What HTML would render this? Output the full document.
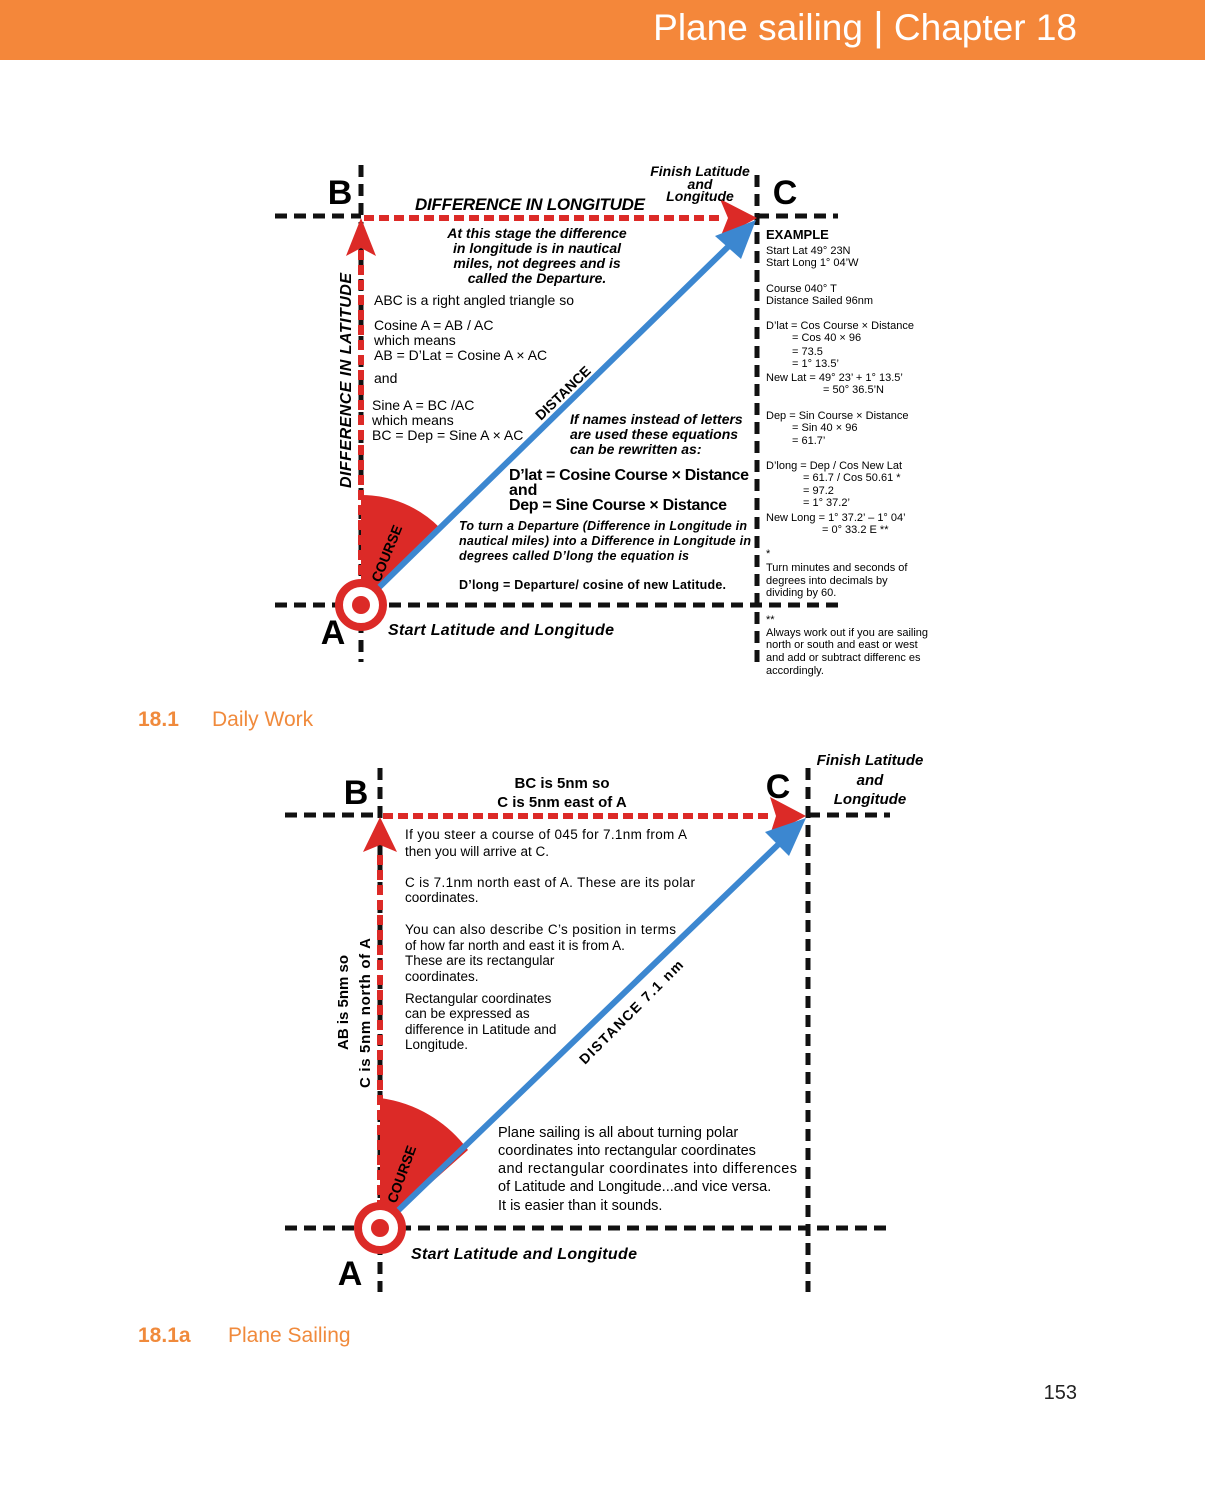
<!DOCTYPE html>
<html><head><meta charset="utf-8"><style>
body{margin:0;background:#fff;}
svg{display:block;font-family:"Liberation Sans",sans-serif;}
.bi{font-weight:bold;font-style:italic;}
</style></head><body>
<svg width="1205" height="1489" viewBox="0 0 1205 1489" xmlns="http://www.w3.org/2000/svg">
<rect x="0" y="0" width="1205" height="60" fill="#F4873A"/>
<text x="1077" y="40" text-anchor="end" font-size="37" fill="#fff">Plane sailing <tspan font-size="40">|</tspan> Chapter 18</text>

<!-- ===== Diagram 1 ===== -->
<g stroke="#111" stroke-width="5" stroke-dasharray="12,7" fill="none">
<line x1="361" y1="165" x2="361" y2="662"/>
<line x1="275" y1="216" x2="361" y2="216"/>
<line x1="757" y1="216" x2="838" y2="216"/>
<line x1="757" y1="175" x2="757" y2="662"/>
<line x1="275" y1="605" x2="840" y2="605"/>
</g>
<g stroke="#DC2A27" stroke-width="6" stroke-dasharray="10,5" fill="none">
<line x1="364" y1="218" x2="722" y2="218"/>
<line x1="361" y1="590" x2="361" y2="250"/>
</g>
<polygon points="757,218 720,199 728,218 720,238" fill="#DC2A27"/>
<polygon points="361,218 346,256 361,248 376,256" fill="#DC2A27"/>
<path d="M361,605 L361,495 A110,110 0 0 1 440,528 Z" fill="#DC2A27"/>
<line x1="361" y1="605" x2="735" y2="240" stroke="#3C87D0" stroke-width="6"/>
<polygon points="756,220 715,236 741,259" fill="#3C87D0"/>
<circle cx="361" cy="605" r="22" fill="#fff"/>
<circle cx="361" cy="605" r="22" fill="none" stroke="#DC2A27" stroke-width="8"/>
<circle cx="361" cy="605" r="9" fill="#DC2A27"/>

<text x="340" y="204" font-size="34" font-weight="bold" text-anchor="middle">B</text>
<text x="785" y="204" font-size="34" font-weight="bold" text-anchor="middle">C</text>
<text x="333" y="644" font-size="34" font-weight="bold" text-anchor="middle">A</text>
<text x="415" y="210" font-size="17" class="bi" textLength="230">DIFFERENCE IN LONGITUDE</text>
<g class="bi" font-size="14" text-anchor="middle">
<text x="700" y="176">Finish Latitude</text><text x="700" y="189">and</text><text x="700" y="201">Longitude</text>
</g>
<g class="bi" font-size="14" text-anchor="middle">
<text x="537" y="238">At this stage the difference</text>
<text x="537" y="253">in longitude is in nautical</text>
<text x="537" y="268">miles, not degrees and is</text>
<text x="537" y="283">called the Departure.</text>
</g>
<text class="bi" font-size="16" transform="translate(351,488) rotate(-90)" textLength="215">DIFFERENCE IN LATITUDE</text>
<g font-size="14">
<text x="374" y="305">ABC is a right angled triangle so</text>
<text x="374" y="330">Cosine A = AB / AC</text>
<text x="374" y="345">which means</text>
<text x="374" y="360">AB = D’Lat = Cosine A × AC</text>
<text x="374" y="383">and</text>
<text x="372" y="410">Sine A = BC /AC</text>
<text x="372" y="425">which means</text>
<text x="372" y="440">BC = Dep = Sine A × AC</text>
</g>
<text x="0" y="0" font-size="14" font-weight="bold" transform="translate(541,421) rotate(-44)">DISTANCE</text>
<g class="bi" font-size="14">
<text x="570" y="424">If names instead of letters</text>
<text x="570" y="439">are used these equations</text>
<text x="570" y="454">can be rewritten as:</text>
</g>
<g font-size="16" font-weight="bold">
<text x="509" y="480" textLength="240">D’lat = Cosine Course × Distance</text>
<text x="509" y="495">and</text>
<text x="509" y="510" textLength="218">Dep = Sine Course × Distance</text>
</g>
<g class="bi" font-size="12.5">
<text x="459" y="530" textLength="288">To turn a Departure (Difference in Longitude in</text>
<text x="459" y="545" textLength="292">nautical miles) into a Difference in Longitude in</text>
<text x="459" y="560" textLength="230">degrees called D’long the equation is</text>
</g>
<text x="459" y="589" font-size="12.5" font-weight="bold" textLength="267">D’long = Departure/ cosine of new Latitude.</text>
<text x="0" y="0" font-size="14" font-weight="bold" transform="translate(380,583) rotate(-68)">COURSE</text>
<text x="388" y="635" class="bi" font-size="16" textLength="226">Start Latitude and Longitude</text>

<g font-size="11">
<text x="766" y="239" font-size="13" font-weight="bold">EXAMPLE</text>
<text x="766" y="254">Start Lat 49° 23N</text>
<text x="766" y="266">Start Long 1° 04’W</text>
<text x="766" y="292">Course 040° T</text>
<text x="766" y="304">Distance Sailed 96nm</text>
<text x="766" y="329">D’lat = Cos Course × Distance</text>
<text x="792" y="341">= Cos 40 × 96</text>
<text x="792" y="355">= 73.5</text>
<text x="792" y="367">= 1° 13.5’</text>
<text x="766" y="381">New Lat = 49° 23’ + 1° 13.5’</text>
<text x="823" y="393">= 50° 36.5’N</text>
<text x="766" y="419">Dep = Sin Course × Distance</text>
<text x="792" y="431">= Sin 40 × 96</text>
<text x="792" y="444">= 61.7’</text>
<text x="766" y="469">D’long = Dep / Cos New Lat</text>
<text x="803" y="481">= 61.7 / Cos 50.61 *</text>
<text x="803" y="494">= 97.2</text>
<text x="803" y="506">= 1° 37.2’</text>
<text x="766" y="521">New Long = 1° 37.2’ – 1° 04’</text>
<text x="822" y="533">= 0° 33.2 E **</text>
<text x="766" y="557">*</text>
<text x="766" y="571">Turn minutes and seconds of</text>
<text x="766" y="584">degrees into decimals by</text>
<text x="766" y="596">dividing by 60.</text>
<text x="766" y="623">**</text>
<text x="766" y="636">Always work out if you are sailing</text>
<text x="766" y="648">north or south and east or west</text>
<text x="766" y="661">and add or subtract differenc es</text>
<text x="766" y="674">accordingly.</text>
</g>

<text x="138" y="726" font-size="21" font-weight="bold" fill="#F08A3C">18.1</text>
<text x="212" y="726" font-size="21" fill="#F08A3C">Daily Work</text>

<!-- ===== Diagram 2 ===== -->
<g stroke="#111" stroke-width="5" stroke-dasharray="12,7" fill="none">
<line x1="380" y1="768" x2="380" y2="1292"/>
<line x1="285" y1="815" x2="380" y2="815"/>
<line x1="808" y1="815" x2="890" y2="815"/>
<line x1="808" y1="768" x2="808" y2="1292"/>
<line x1="285" y1="1228" x2="890" y2="1228"/>
</g>
<g stroke="#DC2A27" stroke-width="6" stroke-dasharray="10,5" fill="none">
<line x1="383" y1="816" x2="770" y2="816"/>
<line x1="380" y1="1210" x2="380" y2="850"/>
</g>
<polygon points="806,816 770,797 776,816 770,835" fill="#DC2A27"/>
<polygon points="380,817 363,852 380,845 397,852" fill="#DC2A27"/>
<path d="M380,1228 L380,1098 A130,130 0 0 1 468,1150 Z" fill="#DC2A27"/>
<line x1="380" y1="1228" x2="785" y2="838" stroke="#3C87D0" stroke-width="6"/>
<polygon points="806,818 765,832 789,856" fill="#3C87D0"/>
<circle cx="380" cy="1228" r="22" fill="#fff"/>
<circle cx="380" cy="1228" r="22" fill="none" stroke="#DC2A27" stroke-width="8"/>
<circle cx="380" cy="1228" r="9" fill="#DC2A27"/>

<text x="356" y="804" font-size="34" font-weight="bold" text-anchor="middle">B</text>
<text x="778" y="798" font-size="34" font-weight="bold" text-anchor="middle">C</text>
<text x="350" y="1285" font-size="34" font-weight="bold" text-anchor="middle">A</text>
<g font-size="15" font-weight="bold" text-anchor="middle">
<text x="562" y="788">BC is 5nm so</text>
<text x="562" y="807">C is 5nm east of A</text>
</g>
<g class="bi" font-size="15" text-anchor="middle">
<text x="870" y="765">Finish Latitude</text><text x="870" y="785">and</text><text x="870" y="804">Longitude</text>
</g>
<g font-size="13.5">
<text x="405" y="839" textLength="282">If you steer a course of 045 for 7.1nm from A</text>
<text x="405" y="856">then you will arrive at C.</text>
<text x="405" y="887" textLength="290">C is 7.1nm north east of A. These are its polar</text>
<text x="405" y="902">coordinates.</text>
<text x="405" y="934" textLength="271">You can also describe C’s position in terms</text>
<text x="405" y="950">of how far north and east it is from A.</text>
<text x="405" y="965">These are its rectangular</text>
<text x="405" y="981">coordinates.</text>
<text x="405" y="1003">Rectangular coordinates</text>
<text x="405" y="1018">can be expressed as</text>
<text x="405" y="1034">difference in Latitude and</text>
<text x="405" y="1049">Longitude.</text>
</g>
<g font-size="15" font-weight="bold">
<text transform="translate(348,1050) rotate(-90)">AB is 5nm so</text>
<text transform="translate(370,1088) rotate(-90)" textLength="150">C is 5nm north of A</text>
</g>
<text font-size="14" font-weight="bold" transform="translate(585,1065) rotate(-45)" textLength="140">DISTANCE 7.1 nm</text>
<text font-size="14" font-weight="bold" transform="translate(396,1204) rotate(-70)">COURSE</text>
<g font-size="14.5">
<text x="498" y="1137">Plane sailing is all about turning polar</text>
<text x="498" y="1155">coordinates into rectangular coordinates</text>
<text x="498" y="1173" textLength="299">and rectangular coordinates into differences</text>
<text x="498" y="1191">of Latitude and Longitude...and vice versa.</text>
<text x="498" y="1210">It is easier than it sounds.</text>
</g>
<text x="411" y="1259" class="bi" font-size="16" textLength="226">Start Latitude and Longitude</text>

<text x="138" y="1342" font-size="21" font-weight="bold" fill="#F08A3C">18.1a</text>
<text x="228" y="1342" font-size="21" fill="#F08A3C">Plane Sailing</text>
<text x="1077" y="1399" font-size="20" text-anchor="end" fill="#222">153</text>
</svg>
</body></html>
